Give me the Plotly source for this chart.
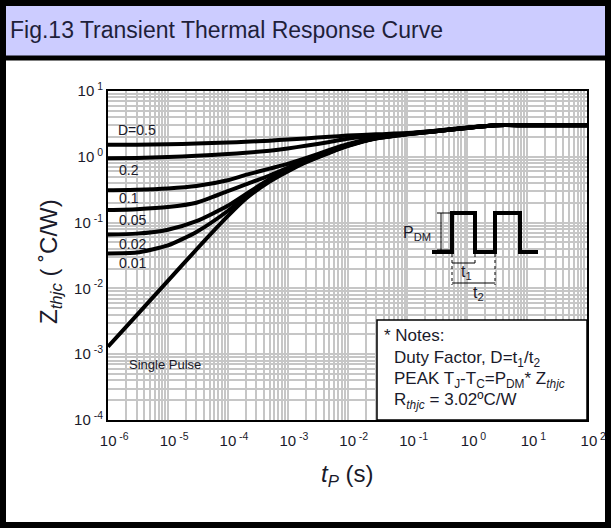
import plotly.graph_objects as go

# ---------------- data ----------------
t_pulse = [1e-6, 3e-6, 1e-5, 3e-5, 1e-4, 2e-4, 5e-4, 1e-3, 2e-3, 5e-3,
           1e-2, 3e-2, 1e-1, 3e-1, 1, 3, 10, 100]

z_d050 = [1.52, 1.53, 1.55, 1.59, 1.65, 1.69, 1.76, 1.83, 1.90, 2.02,
          2.10, 2.20, 2.30, 2.50, 2.78, 3.02, 3.02, 3.02]
z_d020 = [0.95, 0.96, 0.99, 1.04, 1.10, 1.15, 1.24, 1.34, 1.47, 1.68,
          1.88, 2.08, 2.27, 2.48, 2.77, 3.02, 3.02, 3.02]
z_d010 = [0.31, 0.315, 0.33, 0.36, 0.44, 0.53, 0.66, 0.78, 0.95, 1.27,
          1.55, 1.95, 2.24, 2.46, 2.76, 3.02, 3.02, 3.02]
z_d005 = [0.155, 0.16, 0.172, 0.20, 0.30, 0.38, 0.52, 0.68, 0.90, 1.22,
          1.52, 1.93, 2.23, 2.45, 2.76, 3.02, 3.02, 3.02]
z_d002 = [0.066, 0.068, 0.078, 0.105, 0.18, 0.27, 0.46, 0.64, 0.86, 1.20,
          1.50, 1.92, 2.22, 2.45, 2.75, 3.02, 3.02, 3.02]
z_d001 = [0.034, 0.035, 0.045, 0.072, 0.15, 0.25, 0.44, 0.62, 0.84, 1.17,
          1.47, 1.91, 2.21, 2.44, 2.75, 3.02, 3.02, 3.02]
z_single = [0.0013, 0.0039, 0.013, 0.039, 0.125, 0.23, 0.42, 0.60, 0.82, 1.15,
            1.45, 1.90, 2.20, 2.44, 2.75, 3.02, 3.02, 3.02]

curve_names = ["D=0.5", "0.2", "0.1", "0.05", "0.02", "0.01", "Single Pulse"]
curve_values = [z_d050, z_d020, z_d010, z_d005, z_d002, z_d001, z_single]

x_tickvals = [1e-6, 1e-5, 1e-4, 1e-3, 1e-2, 1e-1, 1e0, 1e1, 1e2]
x_ticktext = ["&nbsp;&nbsp;&nbsp;10<sup> -6</sup>", "&nbsp;&nbsp;&nbsp;10<sup> -5</sup>",
              "&nbsp;&nbsp;&nbsp;10<sup> -4</sup>", "&nbsp;&nbsp;&nbsp;10<sup> -3</sup>",
              "&nbsp;&nbsp;&nbsp;10<sup> -2</sup>", "&nbsp;&nbsp;&nbsp;10<sup> -1</sup>",
              "&nbsp;&nbsp;&nbsp;10<sup> 0</sup>", "&nbsp;&nbsp;&nbsp;10<sup> 1</sup>",
              "&nbsp;&nbsp;&nbsp;10<sup> 2</sup>"]
y_tickvals = [1e-4, 1e-3, 1e-2, 1e-1, 1e0, 1e1]
y_ticktext = ["10<sup> -4</sup>", "10<sup> -3</sup>", "10<sup> -2</sup>", "10<sup> -1</sup>",
              "10<sup> 0</sup>", "10<sup> 1</sup>"]

title_text = "Fig.13 Transient Thermal Response Curve"

# ---------------- layout helpers ----------------
W, H = 611, 528
L, R, T, B = 108, 24, 91, 108
PW, PH = W - L - R, H - T - B


def px(x):
    return (x - L) / PW


def py(y):
    return (H - B - y) / PH


FONT = "Liberation Sans, Arial, sans-serif"
TXT = "#1a1a2a"

minor_x = [m * 10.0 ** k for k in range(-6, 2) for m in range(2, 10)]
minor_y = [m * 10.0 ** k for k in range(-4, 1) for m in range(2, 10)]

fig = go.Figure()
for name, vals in zip(curve_names, curve_values):
    fig.add_trace(go.Scatter(x=t_pulse, y=vals, mode="lines", name=name,
                             line=dict(color="black", width=4, shape="spline", smoothing=0.6),
                             showlegend=False, hoverinfo="skip"))

grid_c = "#c6c6c6"
fig.update_xaxes(type="log", range=[-6, 2], tickmode="array", tickvals=x_tickvals,
                 ticktext=x_ticktext, showline=True, linecolor="black", linewidth=2,
                 mirror=True, showgrid=True, gridcolor=grid_c, gridwidth=1.5,
                 ticks="", tickfont=dict(family=FONT, size=15, color=TXT),
                 ticklabelstandoff=6, automargin=False,
                 minor=dict(tickmode="array", tickvals=minor_x, showgrid=True,
                            gridcolor=grid_c, gridwidth=1.5),
                 zeroline=False)
fig.update_yaxes(type="log", range=[-4, 1], tickmode="array", tickvals=y_tickvals,
                 ticktext=y_ticktext, showline=True, linecolor="black", linewidth=2,
                 mirror=True, showgrid=True, gridcolor=grid_c, gridwidth=1.5,
                 ticks="", tickfont=dict(family=FONT, size=15, color=TXT),
                 automargin=False,
                 minor=dict(tickmode="array", tickvals=minor_y, showgrid=True,
                            gridcolor=grid_c, gridwidth=1.5),
                 zeroline=False)

shapes = []
# title band and outer frame
shapes.append(dict(type="rect", xref="paper", yref="paper", x0=px(0), x1=px(W),
                   y0=py(57), y1=py(0), fillcolor="#ccccff", line=dict(width=0), layer="below"))
shapes.append(dict(type="rect", xref="paper", yref="paper", x0=px(3), x1=px(W - 3),
                   y0=py(H - 3), y1=py(3), line=dict(color="black", width=6), layer="above"))
shapes.append(dict(type="line", xref="paper", yref="paper", x0=px(0), x1=px(W),
                   y0=py(58), y1=py(58), line=dict(color="black", width=5), layer="above"))
# notes box
shapes.append(dict(type="rect", xref="paper", yref="paper", x0=px(377), x1=px(W - R),
                   y0=py(H - B), y1=py(320), fillcolor="white",
                   line=dict(color="black", width=1.5), layer="above"))
# pulse train
pulse_path = ("M {0},{1} L {2},{1} L {2},{3} L {4},{3} L {4},{1} L {5},{1} "
              "L {5},{3} L {6},{3} L {6},{1} L {7},{1}").format(
    px(432), py(252), px(452), py(213), px(475), px(495), px(520), px(538))
shapes.append(dict(type="path", xref="paper", yref="paper", path=pulse_path,
                   line=dict(color="black", width=4), layer="above"))
thin = dict(color="black", width=1)
dots = dict(color="black", width=1, dash="dot")
# P_DM dimension
shapes += [
    dict(type="line", xref="paper", yref="paper", x0=px(441), x1=px(441), y0=py(213), y1=py(250), line=thin),
    dict(type="line", xref="paper", yref="paper", x0=px(437), x1=px(451), y0=py(213), y1=py(213), line=thin),
    dict(type="line", xref="paper", yref="paper", x0=px(437), x1=px(451), y0=py(250), y1=py(250), line=thin),
]
# t1 / t2 dimensions
shapes += [
    dict(type="line", xref="paper", yref="paper", x0=px(452), x1=px(452), y0=py(254), y1=py(285), line=dots),
    dict(type="line", xref="paper", yref="paper", x0=px(475), x1=px(475), y0=py(254), y1=py(265), line=dots),
    dict(type="line", xref="paper", yref="paper", x0=px(495), x1=px(495), y0=py(254), y1=py(285), line=dots),
    dict(type="line", xref="paper", yref="paper", x0=px(452), x1=px(475), y0=py(263), y1=py(263), line=thin),
    dict(type="line", xref="paper", yref="paper", x0=px(452), x1=px(495), y0=py(283), y1=py(283), line=thin),
]

ann = []


def add_text(x, y, text, size=12, xanchor="left", yanchor="middle", color=TXT, angle=0, family=FONT):
    ann.append(dict(xref="paper", yref="paper", x=px(x), y=py(y), text=text, showarrow=False,
                    xanchor=xanchor, yanchor=yanchor, textangle=angle,
                    font=dict(family=family, size=size, color=color)))


add_text(8, 30, title_text, size=23, color="#1f1f3a")
# curve labels
label_pos = [(116, 130), (117, 170), (117, 198), (117, 220), (117, 244), (117, 263)]
for (lx, ly), name in zip(label_pos, curve_names[:6]):
    add_text(lx, ly, name, size=14)
add_text(127, 364, curve_names[6], size=13)
# axis titles
add_text(50, 262, "Z<sub><i>thjc</i></sub> ( ˚C/W)", size=24, xanchor="center", angle=-90)
add_text(347, 475, "<i>t</i><sub><i>P</i></sub> (s)", size=24, xanchor="center")
# pulse diagram labels
add_text(401, 233, "P<sub>DM</sub>", size=16)
add_text(459, 272, "t<sub>1</sub>", size=16)
add_text(471, 293, "t<sub>2</sub>", size=16)
# notes
add_text(382, 335, "* Notes:", size=17)
add_text(392, 359, "Duty Factor, D=t<sub>1</sub>/t<sub>2</sub>", size=17)
add_text(392, 380, "PEAK T<sub>J</sub>-T<sub>C</sub>=P<sub>DM</sub>* Z<sub><i>thjc</i></sub>", size=17)
add_text(392, 401, "R<sub><i>thjc</i></sub> = 3.02ºC/W", size=17)

fig.update_layout(width=W, height=H, autosize=False,
                  margin=dict(l=L, r=R, t=T, b=B, pad=0, autoexpand=False),
                  paper_bgcolor="white", plot_bgcolor="white",
                  shapes=shapes, annotations=ann, showlegend=False)

fig.write_html("out.html", config={"displayModeBar": False},
               post_script="document.documentElement.style.overflow='hidden';"
                           "document.body.style.margin='0px';document.body.style.overflow='hidden';")
